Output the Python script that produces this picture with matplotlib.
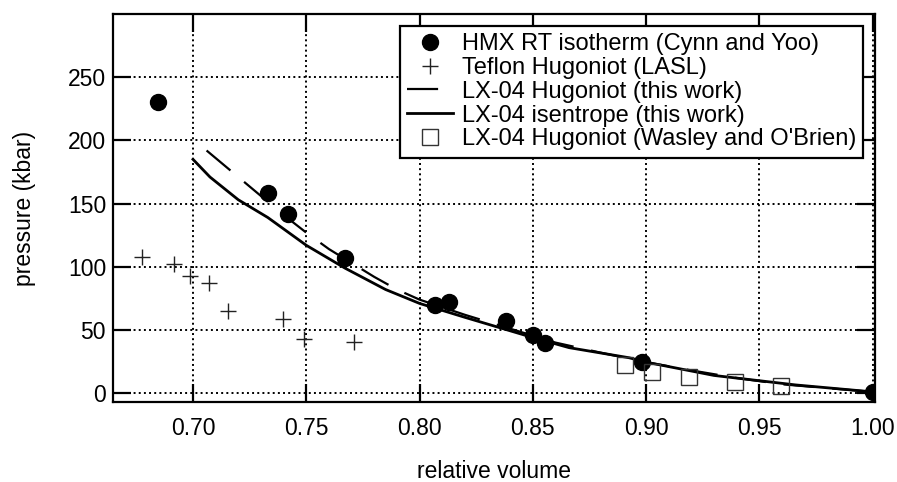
import matplotlib
matplotlib.use('Agg')
import numpy as np
import matplotlib.pyplot as plt

plt.rcParams['font.family'] = ['Liberation Sans', 'DejaVu Sans']

# HMX RT isotherm (Cynn and Yoo)
hmx_v = [0.6846, 0.733, 0.742, 0.767, 0.807, 0.813, 0.838, 0.850, 0.8555, 0.898, 1.000]
hmx_p = [230, 158, 142, 107, 70, 72, 57, 46, 40, 25, 1]

# Teflon Hugoniot (LASL)
teflon_v = [0.6775, 0.6916, 0.6987, 0.707, 0.7154, 0.7397, 0.749, 0.771]
teflon_p = [107.5, 102.5, 93, 87, 65, 59, 43, 40.5]

# LX-04 Hugoniot (this work)
hug_v = [0.706, 0.72, 0.73, 0.74, 0.75, 0.76, 0.77, 0.78, 0.79, 0.80, 0.82,
         0.84, 0.86, 0.88, 0.90, 0.92, 0.94, 0.96, 0.98, 1.00]
hug_p = [192, 171, 156, 141, 127, 114, 103, 92, 82, 74, 62,
         51, 40, 32, 24.5, 18, 12, 7, 4, 1]

# LX-04 isentrope (this work)
isen_v = [0.700, 0.7075, 0.72, 0.733, 0.75, 0.767, 0.785, 0.80, 0.82, 0.835,
          0.85, 0.866, 0.8925, 0.90, 0.93, 0.966, 1.00]
isen_p = [185, 171, 153, 139, 117, 99, 82, 71, 60, 52,
          44, 36, 28, 24.5, 14, 6.5, 1]

# LX-04 Hugoniot (Wasley and O'Brien)
wasley_v = [0.8907, 0.9026, 0.919, 0.939, 0.9595]
wasley_p = [22, 17, 13, 9, 6]

xticks = [0.70, 0.75, 0.80, 0.85, 0.90, 0.95, 1.00]
yticks = [0, 50, 100, 150, 200, 250]

fs = 16.5

fig = plt.figure(figsize=(8.97, 4.82), dpi=100)
ax = fig.add_axes([113 / 897, 80 / 482, 762 / 897, 388 / 482])

ax.plot(hmx_v, hmx_p, 'o', color='black', markersize=11.5, linestyle='none',
        label='HMX RT isotherm (Cynn and Yoo)', zorder=4)
ax.plot(teflon_v, teflon_p, '+', color='#222222', markersize=11, markeredgewidth=1.0,
        linestyle='none', label='Teflon Hugoniot (LASL)', zorder=4)
ax.plot(hug_v, hug_p, color='black', linewidth=1.6, dashes=(14, 8),
        label='LX-04 Hugoniot (this work)', zorder=3)
ax.plot(isen_v, isen_p, color='black', linewidth=2.0,
        label='LX-04 isentrope (this work)', zorder=3)
ax.plot(wasley_v, wasley_p, 's', markerfacecolor='none', markeredgecolor='#333333',
        markeredgewidth=1.0, markersize=11, linestyle='none',
        label="LX-04 Hugoniot (Wasley and O'Brien)", zorder=4)

ax.set_xlim(0.6647, 1.001)
ax.set_ylim(-7, 300)
ax.set_xticks(xticks)
ax.set_xticklabels(['{:.2f}'.format(v) for v in xticks])
ax.set_yticks(yticks)

ax.grid(True, linestyle=':', color='black', linewidth=1.4)
ax.set_axisbelow(True)
ax.tick_params(direction='in', length=13, width=1.6, top=True, right=True,
               labelsize=fs, colors='black')
ax.tick_params(axis='x', pad=11)
ax.tick_params(axis='y', pad=5)
for s in ax.spines.values():
    s.set_linewidth(1.6)

ax.set_xlabel('relative volume', fontsize=fs, labelpad=14)
ax.set_ylabel('pressure (kbar)', fontsize=fs, labelpad=23)

leg = ax.legend(loc='upper right', fontsize=17, frameon=True, fancybox=False,
                edgecolor='black', framealpha=1, handlelength=1.95, handletextpad=0.38,
                labelspacing=0.08, borderpad=0.3, borderaxespad=0.5)
leg.get_frame().set_linewidth(1.6)

fig.savefig('out.png', dpi=100)
